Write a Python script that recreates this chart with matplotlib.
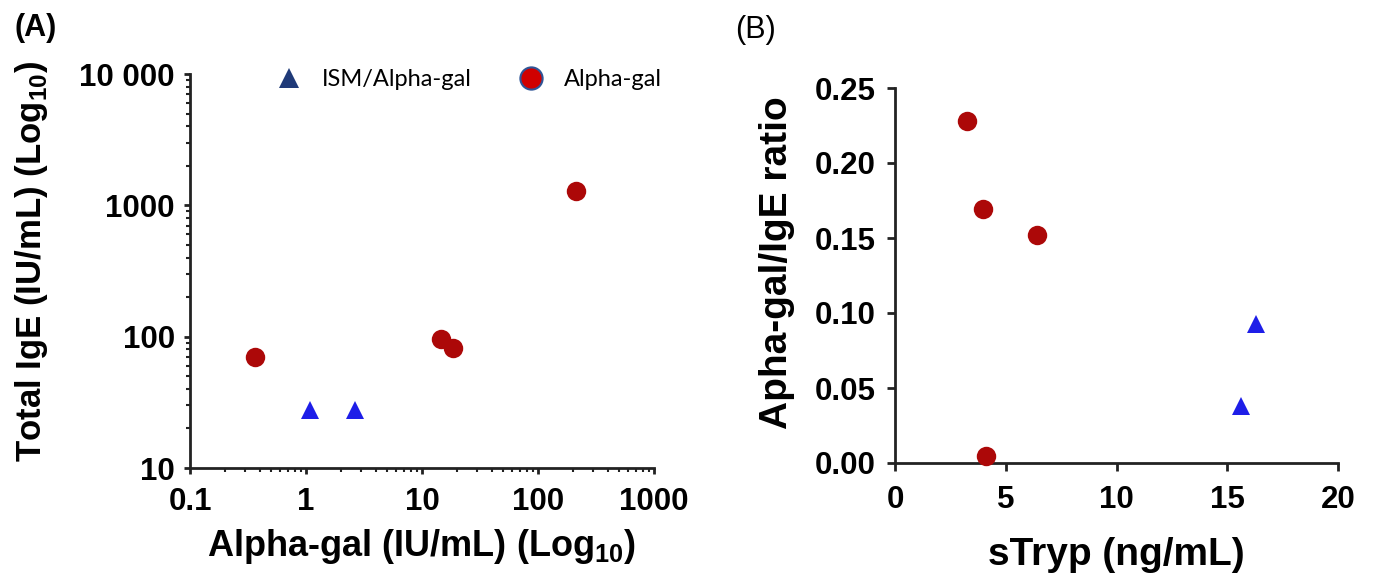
import matplotlib
matplotlib.use("Agg")
import matplotlib.pyplot as plt
from matplotlib.lines import Line2D
from matplotlib.ticker import LogLocator, FixedLocator, NullFormatter

# ---- Data ----
# Panel A: Alpha-gal (IU/mL) vs Total IgE (IU/mL)
a_ism_alphagal = [1.09, 2.64]
a_ism_ige = [27.5, 27.8]
a_ag_alphagal = [0.36, 14.6, 18.6, 214]
a_ag_ige = [70.3, 96.0, 81.5, 1290]

# Panel B: sTryp (ng/mL) vs Alpha-gal/IgE ratio
b_ism_stryp = [15.6, 16.3]
b_ism_ratio = [0.038, 0.093]
b_ag_stryp = [3.25, 3.97, 6.39, 4.09]
b_ag_ratio = [0.228, 0.169, 0.152, 0.005]

a_xticks = [0.1, 1, 10, 100, 1000]
a_xticklabels = ["0.1", "1", "10", "100", "1000"]
a_yticks = [10, 100, 1000, 10000]
a_yticklabels = ["10", "100", "1000", "10 000"]
b_xticks = [0, 5, 10, 15, 20]
b_yticks = [0.00, 0.05, 0.10, 0.15, 0.20, 0.25]

legend_labels = ["ISM/Alpha-gal", "Alpha-gal"]

RED = "#AC0808"
BLUE = "#1E1EE8"
NAVY = "#1F3A78"

plt.rcParams['font.family'] = ['Liberation Sans', 'DejaVu Sans']
plt.rcParams['mathtext.fontset'] = 'custom'
plt.rcParams['mathtext.rm'] = 'Liberation Sans'
plt.rcParams['mathtext.bf'] = 'Liberation Sans:bold'

fig = plt.figure(figsize=(13.76, 5.84), dpi=100)
axA = fig.add_axes([190/1376, 1-468/584, 464/1376, 394/584])
axB = fig.add_axes([895/1376, 1-463/584, 443/1376, 375/584])

ms_c = 14
ms_t = 13.5
TICK_FS = 22.5

# Panel A
axA.plot(a_ag_alphagal, a_ag_ige, 'o', color=RED, markersize=ms_c, markeredgewidth=0, zorder=3)
axA.plot(a_ism_alphagal, a_ism_ige, '^', color=BLUE, markersize=ms_t, markeredgewidth=0, zorder=3)
axA.set_xscale('log')
axA.set_yscale('log')
axA.set_xlim(0.1, 1000)
axA.set_ylim(10, 10000)
axA.xaxis.set_major_locator(FixedLocator(a_xticks))
axA.yaxis.set_major_locator(FixedLocator(a_yticks))
axA.set_xticklabels(a_xticklabels)
axA.set_yticklabels(a_yticklabels)
axA.xaxis.set_minor_locator(LogLocator(base=10, subs=range(2, 10)))
axA.yaxis.set_minor_locator(LogLocator(base=10, subs=range(2, 10)))
axA.xaxis.set_minor_formatter(NullFormatter())
axA.yaxis.set_minor_formatter(NullFormatter())

for ax in (axA, axB):
    for s in ('top', 'right'):
        ax.spines[s].set_visible(False)
    for s in ('left', 'bottom'):
        ax.spines[s].set_linewidth(2.0)
        ax.spines[s].set_color('#222222')
    ax.tick_params(which='major', direction='out', width=2, color='#222222',
                   labelsize=TICK_FS)
    ax.tick_params(which='minor', direction='out', length=3, width=1.5, color='#222222')

axA.tick_params(which='major', length=4.5)
axA.tick_params(axis='y', which='major', pad=6.5)
axA.tick_params(axis='x', which='major', pad=9.5)
for lab in axA.get_xticklabels() + axA.get_yticklabels():
    lab.set_fontweight('bold')

axA.set_xlabel(r"Alpha-gal (IU/mL) (Log$_{\mathbf{10}}$)", fontsize=26, fontweight='bold', labelpad=7)
axA.set_ylabel(r"Total IgE (IU/mL) (Log$_{\mathbf{10}}$)", fontsize=25, fontweight='bold', labelpad=21)
axA.yaxis.label.set_y(0.5 + 10/394)

handles = [
    Line2D([], [], marker='^', linestyle='none', color=NAVY, markersize=14, markeredgewidth=0),
    Line2D([], [], marker='o', linestyle='none', markerfacecolor='#D00000', markeredgecolor='#2F5597',
           markersize=16, markeredgewidth=1.5),
]
axA.legend(handles, legend_labels, loc='center left', bbox_to_anchor=(0.162, 0.985), ncol=2,
           frameon=False, prop={'family': 'Lato', 'size': 17}, handletextpad=0.8,
           columnspacing=1.9, handlelength=1.2, borderaxespad=0)

# Panel B
axB.plot(b_ag_stryp, b_ag_ratio, 'o', color=RED, markersize=ms_c, markeredgewidth=0, zorder=3, clip_on=False)
axB.plot(b_ism_stryp, b_ism_ratio, '^', color=BLUE, markersize=ms_t, markeredgewidth=0, zorder=3, clip_on=False)
axB.set_xlim(0, 20)
axB.set_ylim(0, 0.25)
axB.set_xticks(b_xticks)
axB.set_yticks(b_yticks)
axB.set_xticklabels([str(v) for v in b_xticks])
axB.set_yticklabels([f"{v:.2f}" for v in b_yticks])
axB.tick_params(which='major', length=6)
axB.tick_params(axis='y', which='major', pad=8)
axB.tick_params(axis='x', which='major', pad=9.9)
for lab in axB.get_xticklabels() + axB.get_yticklabels():
    lab.set_fontweight('bold')
axB.set_xlabel("sTryp (ng/mL)", fontsize=28, fontweight='bold', labelpad=15.5)
axB.set_ylabel("Apha-gal/IgE ratio", fontsize=28, fontweight='bold', labelpad=14)
axB.yaxis.label.set_y(0.5 + 13/375)

fig.text(14/1376, 1-28/584, "(A)", fontsize=22, fontweight='bold', va='center', ha='left')
fig.text(735/1376, 1-30/584, "(B)", fontsize=22, va='center', ha='left')

fig.savefig("out.png", dpi=100)
